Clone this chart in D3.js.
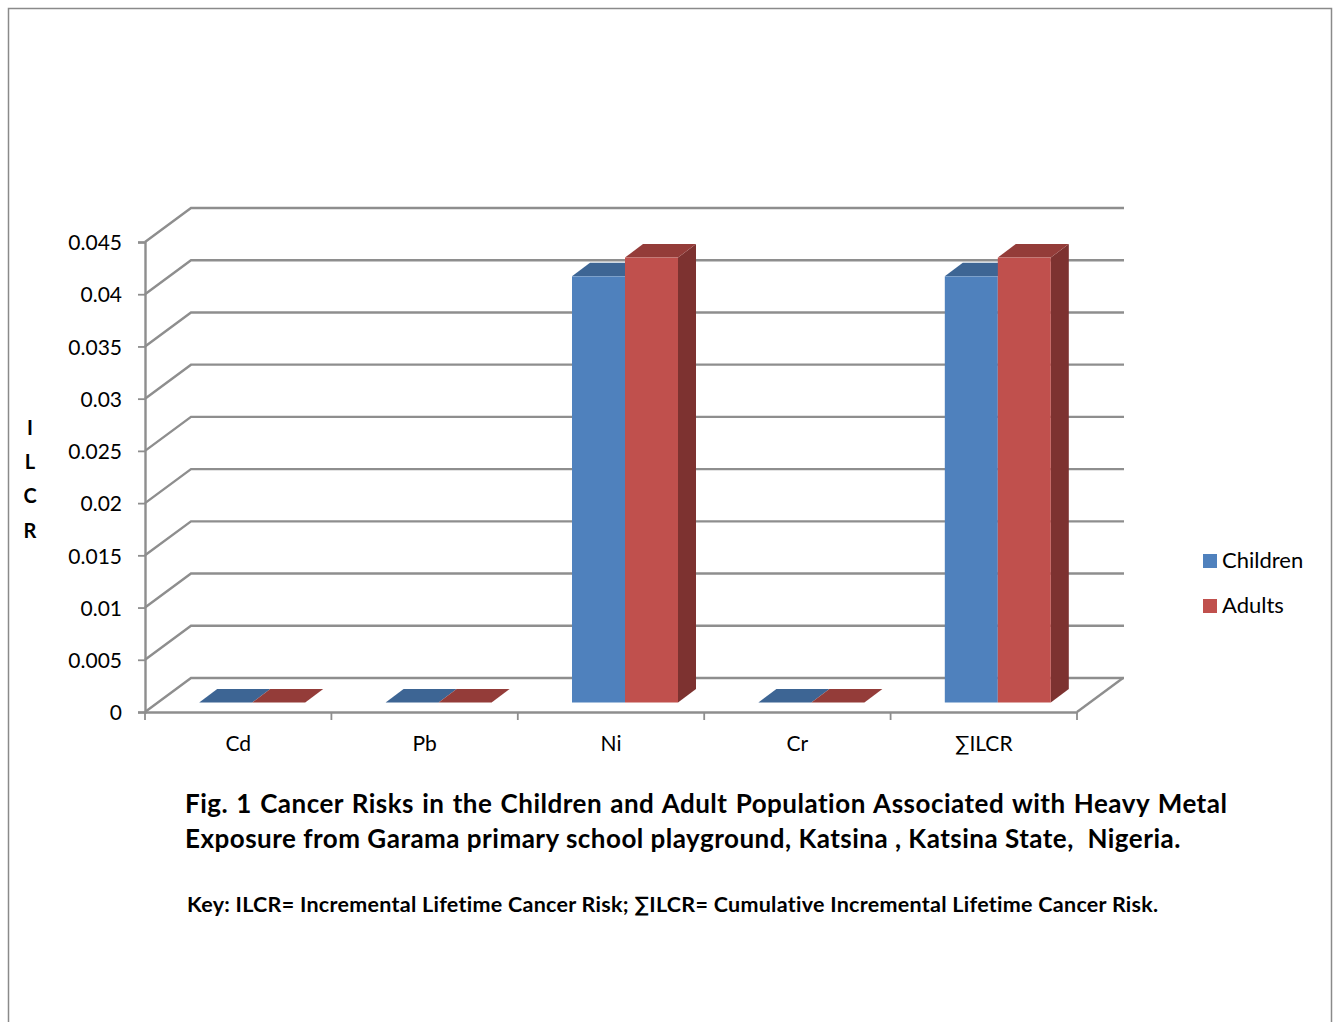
<!DOCTYPE html>
<html>
<head>
<meta charset="utf-8">
<script src="https://cdn.jsdelivr.net/npm/d3@7"></script>
<style>
  html, body { margin: 0; padding: 0; background: #fff; }
  svg { display: block; }
  text { font-family: Lato, "Open Sans", sans-serif; fill: #000; }
</style>
</head>
<body>
<div id="chart"></div>
<script>
const categories = ['Cd', 'Pb', 'Ni', 'Cr', '∑ILCR'];
const seriesNames = ['Children', 'Adults'];
const children = [0, 0, 0.0408, 0, 0.0408];
const adults = [0, 0, 0.0426, 0, 0.0426];
const yTicks = [0, 0.005, 0.01, 0.015, 0.02, 0.025, 0.03, 0.035, 0.04, 0.045];
const yAxisLetters = ['I', 'L', 'C', 'R'];
const titleLines = [
    'Fig. 1 Cancer Risks in the Children and Adult Population Associated with Heavy Metal',
    'Exposure from Garama primary school playground, Katsina , Katsina State,  Nigeria.'
];
const keyLine = 'Key: ILCR= Incremental Lifetime Cancer Risk; ∑ILCR= Cumulative Incremental Lifetime Cancer Risk.';

const width = 1336, height = 1022;
const colors = {
    Children: { front: '#4f81bd', top: '#3d6594' },
    Adults: { front: '#c0504d', top: '#943c39', side: '#7d3230' }
};
const gridColor = '#8e8e8e';

// oblique offset of the back wall
const depthX = 46, depthY = 34;
// the bars sit in the middle of the floor
const barFrontX = 14, barFrontY = 9.5, barDepthX = 18, barDepthY = 13.5;

const xScale = d3.scaleBand(categories, [145, 1077]);
const yScale = d3.scaleLinear([0, 0.045], [712, 242]);
const innerScale = d3.scaleBand(seriesNames, [0, 106]);

const svg = d3.select('#chart').append('svg')
    .attr('width', width)
    .attr('height', height)
    .attr('viewBox', [0, 0, width, height]);

// outer frame, open at the bottom
svg.append('path')
    .attr('fill', 'none')
    .attr('stroke', '#8a8a8a')
    .attr('stroke-width', 1.5)
    .attr('d', `M8.5,${height} V8.5 H1331.5 V${height}`);

// gridlines on side wall and back wall
const gridLine = d => {
    const y = yScale(d);
    return d3.line()([[145, y], [145 + depthX, y - depthY], [1078 + depthX, y - depthY]]);
};
svg.append('g')
    .selectAll('path')
    .data(yTicks)
    .join('path')
    .attr('fill', 'none')
    .attr('stroke', gridColor)
    .attr('stroke-width', 2.4)
    .attr('d', gridLine);

// floor edge on the right
svg.append('path')
    .attr('fill', 'none')
    .attr('stroke', gridColor)
    .attr('stroke-width', 2.4)
    .attr('d', d3.line()([[1077, yScale(0)], [1077 + depthX, yScale(0) - depthY]]));

// y axis
const yAxis = d3.axisLeft(yScale)
    .tickValues(yTicks)
    .tickFormat(d => d)
    .tickSize(7)
    .tickPadding(16);
const yG = svg.append('g')
    .attr('transform', 'translate(145,0)')
    .call(yAxis);
yG.select('.domain').attr('stroke', gridColor).attr('stroke-width', 2.4);
yG.selectAll('.tick line').attr('stroke', gridColor).attr('stroke-width', 1.8);
yG.selectAll('.tick text')
    .style('font-size', '21px')
    .attr('y', 1)
    .attr('dy', '0.32em')
    .attr('fill', '#000');

// x axis, with ticks on the band edges
const xAxis = d3.axisBottom(xScale).tickSize(0).tickPadding(24);
const xG = svg.append('g')
    .attr('transform', `translate(0,${yScale(0)})`)
    .call(xAxis);
xG.select('.domain').attr('stroke', gridColor).attr('stroke-width', 2.4);
xG.selectAll('.tick text').style('font-size', '21px').attr('fill', '#000');
xG.selectAll('.edge')
    .data([...categories.map(c => xScale(c)), 1077])
    .join('line')
    .attr('class', 'edge')
    .attr('x1', d => d)
    .attr('x2', d => d)
    .attr('y1', 0)
    .attr('y2', 8)
    .attr('stroke', gridColor)
    .attr('stroke-width', 1.8);

// bars
const bars = categories.flatMap((c, i) => [
    { cat: c, name: 'Children', value: children[i] },
    { cat: c, name: 'Adults', value: adults[i] }
]);
const barBox = d => {
    const x0 = xScale(d.cat) + (xScale.bandwidth() - innerScale.step() * 2) / 2 + innerScale(d.name) + barFrontX;
    return { x0, x1: x0 + innerScale.bandwidth(), y0: yScale(0) - barFrontY, y1: yScale(d.value) - barFrontY };
};

const barG = svg.append('g').selectAll('g')
    .data(bars)
    .join('g');

barG.filter(d => d.name === 'Adults' && d.value > 0)
    .append('path')
    .attr('fill', d => colors[d.name].side)
    .attr('d', d => {
        const b = barBox(d);
        return d3.line()([[b.x1, b.y1], [b.x1 + barDepthX, b.y1 - barDepthY], [b.x1 + barDepthX, b.y0 - barDepthY], [b.x1, b.y0]]) + 'Z';
    });

barG.append('path')
    .attr('fill', d => colors[d.name].top)
    .attr('d', d => {
        const b = barBox(d);
        return d3.line()([[b.x0, b.y1], [b.x0 + barDepthX, b.y1 - barDepthY], [b.x1 + barDepthX, b.y1 - barDepthY], [b.x1, b.y1]]) + 'Z';
    });

barG.append('rect')
    .attr('fill', d => colors[d.name].front)
    .attr('x', d => barBox(d).x0)
    .attr('y', d => barBox(d).y1)
    .attr('width', innerScale.bandwidth())
    .attr('height', d => barBox(d).y0 - barBox(d).y1);

// y axis title, one letter per row
svg.append('g')
    .selectAll('text')
    .data(yAxisLetters)
    .join('text')
    .attr('x', 30)
    .attr('y', (d, i) => 435 + i * 34.2)
    .attr('text-anchor', 'middle')
    .style('font-size', '20px')
    .style('font-weight', 700)
    .text(d => d);

// legend
const legend = svg.append('g')
    .selectAll('g')
    .data(seriesNames)
    .join('g')
    .attr('transform', (d, i) => `translate(1203,${554 + i * 45})`);
legend.append('rect')
    .attr('width', 14)
    .attr('height', 14)
    .attr('fill', d => colors[d].front);
legend.append('text')
    .attr('x', 19)
    .attr('y', 14)
    .style('font-size', '22px')
    .text(d => d);

// caption, spaced out to the justified width of the original
svg.append('g')
    .selectAll('text')
    .data(titleLines)
    .join('text')
    .attr('x', 185)
    .attr('y', (d, i) => 813 + i * 34.5)
    .style('font-size', '26px')
    .style('font-weight', 700)
    .style('letter-spacing', '0.49px')
    .style('word-spacing', (d, i) => i === 0 ? '1.4px' : '0px')
    .style('white-space', 'pre')
    .text(d => d);

svg.append('text')
    .attr('x', 187)
    .attr('y', 912)
    .style('font-size', '21.5px')
    .style('font-weight', 700)
    .style('letter-spacing', '0.27px')
    .text(keyLine);
</script>
</body>
</html>
